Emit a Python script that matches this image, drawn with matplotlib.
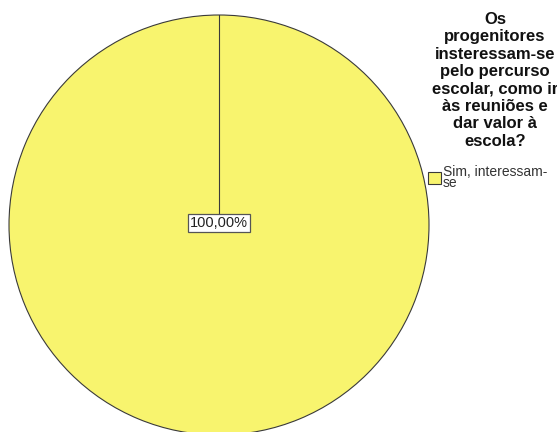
import numpy as np
import matplotlib
matplotlib.use("Agg")
import matplotlib.pyplot as plt

plt.rcParams['font.family'] = ['Liberation Sans', 'DejaVu Sans']

# dados
categorias = ["Sim, interessam-\nse"]
valores = [100.0]
cores = ["#F8F46E"]
titulo = "Os\nprogenitores\ninsteressam-se\npelo percurso\nescolar, como ir\nàs reuniões e\ndar valor à\nescola?"

fig = plt.figure(figsize=(5.57, 4.32), dpi=100)
ax = fig.add_axes([9/557, (432-435)/432, 420/557, 420/432])

inicio = 90
wedges, texts, autotexts = ax.pie(
    valores, colors=cores, startangle=inicio, counterclock=False,
    autopct=lambda p: f"{p:.2f}%".replace(".", ","), pctdistance=0.0,
    wedgeprops=dict(edgecolor="#3a3a3a", linewidth=0.8))

# linha do inicio da fatia (pie de 360 graus nao desenha o raio)
ang = np.deg2rad(inicio)
ax.plot([0, np.cos(ang)], [0, np.sin(ang)], color="#3a3a3a", lw=0.8, zorder=1)

for t in autotexts:
    t.set_fontsize(10.5)
    t.set_color("#222222")
    t.set_zorder(5)
    t.set_bbox(dict(facecolor="white", edgecolor="#555555", linewidth=0.9, pad=1.5))
    t.set_position((0, 0.01))

ax.set_xlim(-1, 1)
ax.set_ylim(-1, 1)
ax.set_aspect("equal")
ax.axis("off")

fig.text(495/557, 1 - 12/432, titulo, ha="center", va="top",
         fontsize=12, fontweight="bold", linespacing=1.2, color="#111111")

fig.legend(wedges, categorias, loc="upper left", bbox_to_anchor=(421/557, 1 - 158/432),
           frameon=False, fontsize=10, borderpad=0, handlelength=0.95, handleheight=0.95,
           handletextpad=0.1, labelspacing=0.2)
for txt in fig.legends[0].get_texts():
    txt.set_linespacing(0.75)
    txt.set_color("#333333")

fig.savefig("out.png", dpi=100)
